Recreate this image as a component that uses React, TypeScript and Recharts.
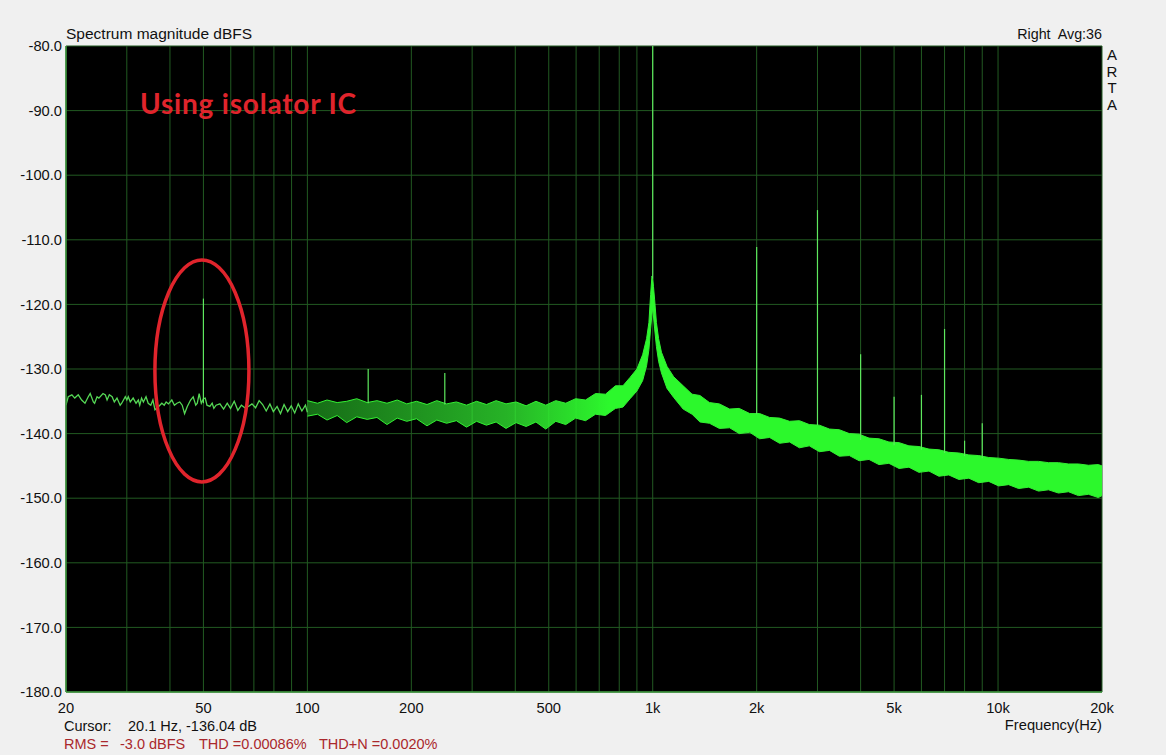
import React from 'react';
import { ComposedChart, Line, Area, XAxis, YAxis, CartesianGrid, ReferenceDot } from 'recharts';

// Low-frequency trace (thin line), Hz and dBFS
const lowFreq = [20.0,20.3,20.8,21.2,21.7,22.2,22.7,23.2,23.5,24.0,24.2,24.6,24.9,25.6,26.0,26.3,26.7,27.2,27.6,28.1,28.7,29.0,29.7,30.0,30.3,30.7,31.3,31.9,32.4,32.7,33.1,33.5,34.1,34.6,35.2,35.7,36.2,37.1,37.9,38.5,39.0,39.6,40.5,41.2,41.9,42.7,43.4,44.1,44.9,45.9,46.7,47.5,48.0,48.6,49.3,50.0,50.6,51.2,52.2,53.0,53.6,54.4,55.8,57.2,58.6,59.9,61.4,62.9,64.4,65.9,67.5,69.1,70.8,72.5,74.2,76.0,77.9,79.7,81.7,83.6,85.6,87.7,89.8,91.9,94.1,96.4,98.7,100.0];
const lowDb = [-135.6,-134.3,-134.0,-134.5,-134.0,-134.8,-135.3,-134.3,-133.8,-135.1,-135.3,-134.3,-134.5,-133.8,-134.0,-134.8,-134.0,-134.3,-135.1,-134.5,-135.6,-135.3,-134.3,-134.8,-134.3,-135.1,-134.5,-135.3,-134.8,-135.6,-134.5,-135.1,-134.3,-135.3,-135.6,-134.8,-136.3,-135.8,-135.3,-135.6,-135.1,-135.4,-134.8,-135.6,-135.3,-135.1,-135.6,-136.9,-135.8,-134.8,-134.3,-135.6,-135.3,-133.8,-135.3,-134.6,-134.5,-135.6,-135.8,-135.3,-136.1,-135.6,-135.4,-136.2,-135.3,-136.1,-135.0,-136.4,-135.6,-136.0,-135.8,-135.4,-136.0,-134.9,-135.5,-136.5,-135.4,-136.6,-135.8,-136.9,-135.5,-136.6,-135.7,-136.8,-135.4,-136.5,-135.6,-136.7];

// Dense noise band (lower / upper envelope), Hz and dBFS
const bandFreq = [100,107,114,122,130,139,149,159,170,182,194,207,222,237,253,270,289,309,330,352,376,402,430,459,490,524,560,598,639,683,730,780,820,860,900,935,960,975,986,995,1000,1005,1013,1025,1040,1060,1100,1150,1225,1300,1370,1460,1560,1670,1780,1910,2040,2180,2330,2490,2660,2840,3040,3250,3470,3710,3960,4230,4520,4830,5170,5520,5900,6310,6740,7200,7700,8230,8790,9400,10040,10730,11470,12260,13100,14000,14960,15990,17090,18270,19520,20000];
const bandLow = [-137.3,-137.0,-137.9,-137.2,-138.3,-137.4,-137.8,-137.5,-138.6,-137.6,-138.1,-137.7,-138.8,-137.9,-138.4,-138.0,-139.0,-138.1,-138.7,-138.2,-139.2,-138.3,-138.9,-138.2,-139.3,-138.1,-138.6,-137.6,-138.0,-137.0,-137.2,-136.1,-135.9,-134.6,-133.4,-131.8,-129.5,-127.0,-123.8,-121.5,-120.5,-121.8,-123.8,-126.5,-128.8,-130.6,-133.0,-134.4,-136.2,-137.0,-138.2,-138.4,-139.2,-139.1,-140.0,-139.8,-140.8,-140.6,-141.5,-141.3,-142.2,-141.9,-142.8,-142.6,-143.5,-143.4,-144.2,-144.0,-144.8,-144.6,-145.4,-145.2,-146.0,-145.8,-146.6,-146.4,-147.1,-146.9,-147.6,-147.4,-148.1,-147.9,-148.5,-148.3,-148.9,-148.7,-149.2,-149.0,-149.6,-149.4,-149.9,-149.6];
const bandHigh = [-134.9,-135.3,-134.8,-135.2,-135.0,-134.6,-135.2,-134.9,-135.3,-134.8,-135.4,-135.0,-135.5,-134.9,-135.4,-135.1,-135.6,-135.0,-135.5,-134.9,-135.4,-135.1,-135.7,-135.0,-135.6,-134.9,-135.3,-134.6,-134.8,-133.8,-133.9,-132.6,-132.6,-131.3,-130.0,-127.8,-125.3,-122.8,-118.5,-115.6,-116.0,-117.2,-119.3,-122.8,-125.3,-127.4,-129.6,-131.2,-132.6,-133.9,-134.1,-135.2,-135.4,-136.2,-136.1,-136.9,-136.9,-137.5,-137.6,-138.1,-138.0,-138.6,-138.7,-139.3,-139.4,-140.0,-140.1,-140.7,-140.8,-141.3,-141.4,-141.9,-142.0,-142.4,-142.5,-142.9,-143.0,-143.3,-143.4,-143.7,-143.8,-144.0,-144.1,-144.3,-144.3,-144.5,-144.5,-144.7,-144.7,-144.9,-144.8,-145.0];

// Hum / harmonic spikes
const spikeFreq = [50,150,250,1000,2000,3000,4000,5000,6000,7000,8000,9000];
const spikeFloor = [-135.3,-135.3,-135.5,-116.0,-137.0,-138.7,-141.0,-141.8,-142.5,-143.0,-143.5,-143.8];
const spikeTop = [-119.1,-130.0,-130.6,-80.0,-111.1,-105.4,-127.7,-134.3,-134.0,-123.8,-141.1,-138.4];

// Axes
const gridFreq = [20,30,40,50,60,70,80,90,100,200,300,400,500,600,700,800,900,1000,2000,3000,4000,5000,6000,7000,8000,9000,10000,20000];
const labelFreq = [20,50,100,200,500,1000,2000,5000,10000,20000];
const labelText = ['20','50','100','200','500','1k','2k','5k','10k','20k'];
const yTicks = [-180,-170,-160,-150,-140,-130,-120,-110,-100,-90,-80];

const lowData = lowFreq.map((f, i) => ({ f, v: lowDb[i] }));
const bandData = bandFreq.map((f, i) => ({ f, r: [bandLow[i], bandHigh[i]] }));
const spikeData = spikeFreq.map((f, i) => [{ f, v: spikeFloor[i] }, { f, v: spikeTop[i] }]);

const FONT = '"Liberation Sans", Arial, sans-serif';
const GRID = '#225a22';
const AXIS = '#3e963e';

const xFmt = (v: number) => {
  const i = labelFreq.indexOf(v);
  return i >= 0 ? labelText[i] : '';
};

export default function App() {
  return (
    <div style={{ position: 'relative', width: 1166, height: 755, background: '#f0f0f0', overflow: 'hidden' }}>
      <style>{`body{margin:0;background:#f0f0f0;}`}</style>
      <ComposedChart width={1166} height={755} margin={{ top: 46, right: 64, bottom: 33, left: 6 }}>
        <defs>
          <linearGradient id="bandFill" x1="0" y1="0" x2="1" y2="0">
            <stop offset="0" stopColor="#33ee33" stopOpacity={0.45} />
            <stop offset="0.25" stopColor="#33ee33" stopOpacity={0.75} />
            <stop offset="0.38" stopColor="#2cf82c" stopOpacity={1} />
            <stop offset="1" stopColor="#2cf82c" stopOpacity={1} />
          </linearGradient>
        </defs>
        <CartesianGrid fill="#000000" stroke={GRID} strokeWidth={1} />
        <XAxis
          type="number"
          dataKey="f"
          scale="log"
          domain={[20, 20000]}
          ticks={gridFreq}
          tickFormatter={xFmt}
          interval={0}
          allowDataOverflow
          height={30}
          tickSize={0}
          tickMargin={11}
          axisLine={{ stroke: AXIS, strokeWidth: 1.5 }}
          tick={{ fill: '#111', fontSize: 14.7, fontFamily: FONT }}
        />
        <YAxis
          type="number"
          domain={[-180, -80]}
          ticks={yTicks}
          interval={0}
          allowDataOverflow
          width={60}
          tickSize={0}
          tickMargin={4}
          tickFormatter={(v: number) => v.toFixed(1)}
          axisLine={{ stroke: AXIS, strokeWidth: 1.5 }}
          tick={{ fill: '#111', fontSize: 14.7, fontFamily: FONT }}
        />
        <Area
          data={bandData}
          dataKey="r"
          type="linear"
          stroke="#33f033"
          strokeWidth={1}
          fill="url(#bandFill)"
          fillOpacity={1}
          isAnimationActive={false}
          dot={false}
          activeDot={false}
        />
        <Line
          data={lowData}
          dataKey="v"
          type="linear"
          stroke="#55d855"
          strokeWidth={1.3}
          dot={false}
          activeDot={false}
          isAnimationActive={false}
        />
        {spikeData.map((d, i) => (
          <Line
            key={i}
            data={d}
            dataKey="v"
            type="linear"
            stroke="#5ee85e"
            strokeWidth={1.2}
            dot={false}
            activeDot={false}
            isAnimationActive={false}
          />
        ))}
        <ReferenceDot
          x={49.5}
          y={-130.3}
          r={1}
          isFront
          shape={(p: any) => (
            <ellipse cx={p.cx} cy={p.cy} rx={47} ry={111} fill="none" stroke="#e0242c" strokeWidth={3.5} />
          )}
        />
      </ComposedChart>
      <svg width={1166} height={755} style={{ position: 'absolute', left: 0, top: 0, pointerEvents: 'none' }}>
        <text x={66} y={39} fontFamily={FONT} fontSize={15.5} fill="#111">Spectrum magnitude dBFS</text>
        <text x={1102} y={39} fontFamily={FONT} fontSize={14.3} fill="#111" textAnchor="end" style={{ whiteSpace: 'pre' }}>Right  Avg:36</text>
        {['A', 'R', 'T', 'A'].map((c, i) => (
          <text key={i} x={1112} y={60 + i * 16.5} fontFamily={FONT} fontSize={15} fill="#111" textAnchor="middle">{c}</text>
        ))}
        <text x={140} y={114} fontFamily="Lato, 'Open Sans', sans-serif" fontWeight={700} fontSize={28} letterSpacing={0.8} fill="#e0242c">Using isolator IC</text>
        <text x={64} y={731} fontFamily={FONT} fontSize={14.5} fill="#111">Cursor:</text>
        <text x={128} y={731} fontFamily={FONT} fontSize={14.5} fill="#111">20.1 Hz, -136.04 dB</text>
        <text x={1102} y={730} fontFamily={FONT} fontSize={14.7} fill="#111" textAnchor="end">Frequency(Hz)</text>
        <text x={64} y={749} fontFamily={FONT} fontSize={14.5} fill="#aa282c">RMS =</text>
        <text x={120} y={749} fontFamily={FONT} fontSize={14.5} fill="#aa282c">-3.0 dBFS</text>
        <text x={199} y={749} fontFamily={FONT} fontSize={14.5} fill="#aa282c">THD =0.00086%</text>
        <text x={319} y={749} fontFamily={FONT} fontSize={14.5} fill="#aa282c">THD+N =0.0020%</text>
      </svg>
    </div>
  );
}
